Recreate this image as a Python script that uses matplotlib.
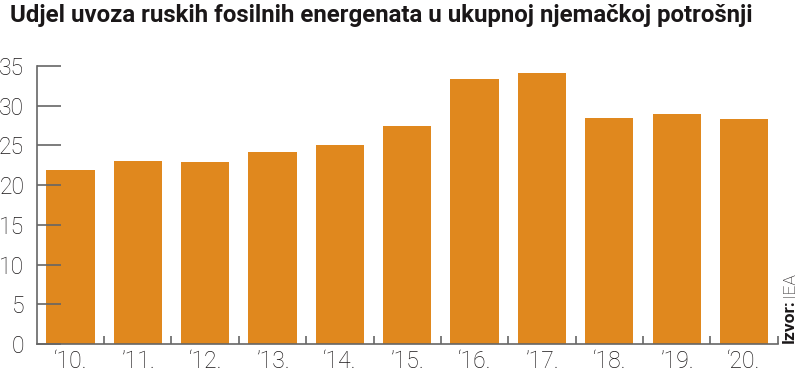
import matplotlib.pyplot as plt
import numpy as np

# share of Russian fossil energy imports in German consumption (%)
years = ['‘10.', '’11.', '‘12.', '’13.', '‘14.', '’15.', '‘16.', '’17.', '‘18.', '’19.', '‘20.']
values = [21.9, 23.0, 22.9, 24.2, 25.1, 27.5, 33.4, 34.1, 28.5, 29.0, 28.3]
yticks = [0, 5, 10, 15, 20, 25, 30, 35]

title = 'Udjel uvoza ruskih fosilnih energenata u ukupnoj njemačkoj potrošnji'
bar_color = '#E0881E'
axis_color = '#666666'
text_color = '#1A1718'

plt.rcParams['font.family'] = ['Roboto', 'DejaVu Sans']

fig = plt.figure(figsize=(8, 3.72), dpi=100)
ax = fig.add_axes([0.046, 0.0753, 0.926, 0.7473])

x = np.arange(len(values))
ax.bar(x, values, width=0.715, color=bar_color)

ax.set_xlim(-0.5, len(values) - 0.5)
ax.set_ylim(0, 35)

for s in ['top', 'right']:
    ax.spines[s].set_visible(False)
for s in ['left', 'bottom']:
    ax.spines[s].set_color(axis_color)
    ax.spines[s].set_linewidth(1.2)

ax.set_yticks(yticks)
ax.set_yticklabels([str(t) for t in yticks], fontsize=16.5, fontweight='light', color=text_color)
ax.tick_params(axis='y', direction='in', length=17, width=1.2, color=axis_color, pad=9)

ax.set_xticks(x)
ax.set_xticklabels(years, fontsize=16.5, fontweight='light', color=text_color)
ax.tick_params(axis='x', length=0, pad=4)
ax.set_xticks(np.arange(0.5, len(values)), minor=True)
ax.tick_params(axis='x', which='minor', direction='in', length=6, width=1.2, color=axis_color)

fig.text(0.012, 0.99, title, fontsize=17.3, fontweight='bold', color=text_color,
         ha='left', va='top')

# source note, rotated, bold label followed by regular text
src1 = fig.text(0.977, 0.078, 'Izvor:', rotation=90, fontsize=12.5, fontweight='bold',
                color=text_color, ha='left', va='bottom')
fig.canvas.draw()
bb = src1.get_window_extent().transformed(fig.transFigure.inverted())
fig.text(0.977, bb.y1 + 0.006, 'IEA', rotation=90, fontsize=12.5, fontweight='light',
         color=text_color, ha='left', va='bottom')

fig.savefig('out.png', dpi=100)
